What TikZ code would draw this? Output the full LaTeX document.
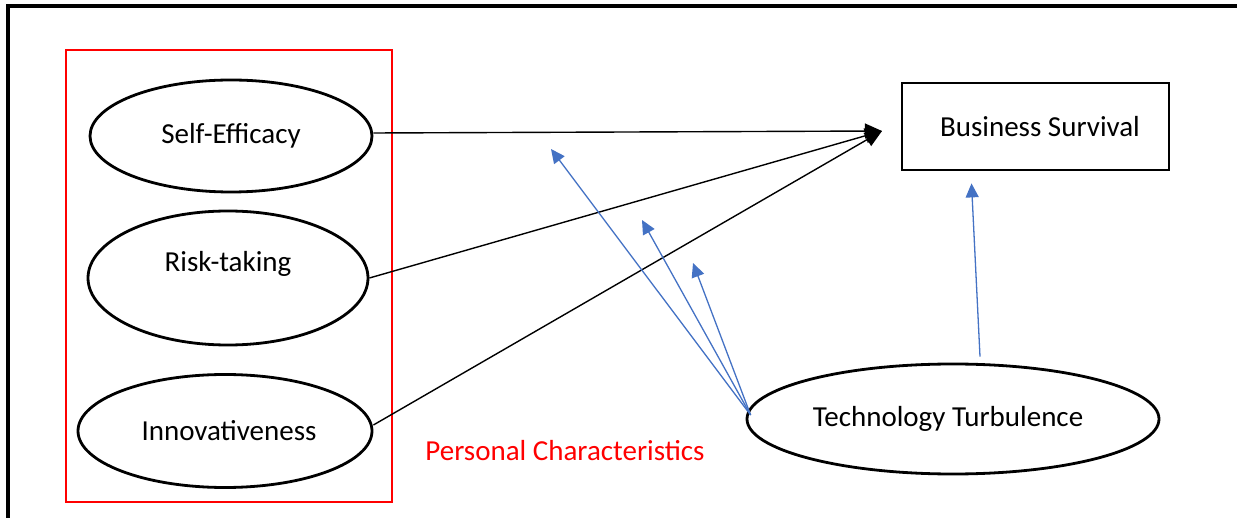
\documentclass[tikz,border=0pt]{standalone}
\usepackage{fontspec}
\setmainfont{Carlito}
\usetikzlibrary{arrows.meta,shapes.geometric}
\definecolor{linkblue}{RGB}{68,114,196}
\begin{document}
\begin{tikzpicture}[x=1pt,y=-1pt,font=\fontsize{29}{34}\selectfont,
  construct/.style={draw,ellipse,line width=2.8pt,inner sep=0pt},
  outcome/.style={draw,rectangle,line width=2.8pt,inner sep=0pt},
  direct/.style={line width=1.4pt,-{Triangle[length=17pt,width=15pt]}},
  moderate/.style={linkblue,line width=1.3pt,-{Triangle[length=14pt,width=13pt]}}]
\useasboundingbox (0,0) rectangle (1237,518);
\draw [line width=3.4pt] (8,518) -- (8,6) -- (1237,6);
\draw [red,line width=2.4pt] (66,50) rectangle (392,502);

\node [construct,minimum width=282pt,minimum height=112pt] (self) at (231,136) {\raisebox{-2pt}{Self-Efficacy}};
\node [construct,minimum width=280pt,minimum height=134pt,label={[yshift=14pt]center:Risk-taking}] (risk) at (228,278) {};
\node [construct,minimum width=294pt,minimum height=113pt] (innov) at (225,431) {\hspace*{8pt}Innovativeness};
\node [outcome,minimum width=267pt,minimum height=87pt] (bs) at (1035.5,126.5) {\hspace*{9pt}Business Survival};
\node [construct,minimum width=412pt,minimum height=110pt] (tt) at (953,419) {\hspace*{-10pt}Technology Turbulence};
\node [red] (pc) at (565,451) {Personal Characteristics};

\coordinate (bsTip) at (882,131);
\coordinate (m1) at (551,149);
\coordinate (m2) at (642,220);
\coordinate (m3) at (693,263);

\draw [direct] ([yshift=3pt]self.east) -- (bsTip);
\draw [direct] (risk.east) -- (bsTip);
\draw [direct] ([yshift=6pt]innov.east) -- (bsTip);

\draw [moderate] ([xshift=5pt,yshift=4pt]tt.west) -- (m1);
\draw [moderate] ([xshift=5pt,yshift=4pt]tt.west) -- (m2);
\draw [moderate] ([xshift=5pt,yshift=4pt]tt.west) -- (m3);
\draw [moderate] ([xshift=27pt,yshift=6pt]tt.north) -- ([xshift=-64pt,yshift=-12pt]bs.south);
\end{tikzpicture}
\end{document}
